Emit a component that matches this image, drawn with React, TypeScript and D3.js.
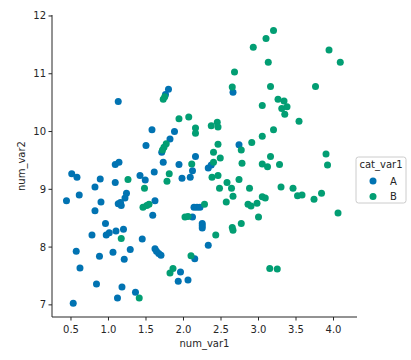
import * as React from "react";
import * as d3 from "d3";

// points, [num_var1, num_var2]
const groupA: number[][] = [
  [0.51, 9.27], [0.58, 9.21], [0.44, 8.8], [0.61, 8.9], [0.82, 9.04], [0.89, 9.18],
  [1.09, 9.12], [0.9, 8.78], [0.82, 8.63], [0.96, 8.41], [0.78, 8.21], [0.97, 8.21],
  [1.01, 8.25], [1.1, 8.28], [1.2, 8.31], [1.13, 8.75], [1.17, 8.72], [1.16, 8.77],
  [1.22, 8.85], [1.24, 8.93], [1.42, 9.24], [1.49, 9.16], [1.61, 9.3], [1.62, 8.8],
  [1.59, 8.55], [1.45, 8.14], [1.62, 7.97], [1.64, 7.93], [1.67, 7.89], [1.7, 7.86],
  [1.98, 9.19], [2.09, 9.21], [2.12, 9.32], [2.12, 8.52], [2.15, 7.8], [2.14, 8.69],
  [2.18, 8.69], [2.22, 8.69], [2.25, 8.41], [2.25, 8.37], [2.25, 8.33], [2.33, 8.03],
  [0.57, 7.93], [0.88, 7.84], [0.62, 7.64], [1.06, 7.91], [1.21, 7.79], [1.29, 7.96],
  [0.84, 7.36], [1.18, 7.31], [1.12, 7.12], [1.36, 7.22], [0.53, 7.03], [1.96, 7.57],
  [1.93, 7.41], [2.06, 7.43], [2.66, 10.68], [2.74, 9.77], [2.33, 9.37], [2.37, 9.42],
  [1.13, 10.52], [1.8, 10.73], [1.76, 10.64], [1.58, 10.03], [1.88, 10.0], [1.82, 9.87],
  [1.5, 9.76], [1.71, 9.64], [2.16, 9.57], [1.09, 9.43], [1.14, 9.47], [1.73, 9.47],
  [1.94, 9.43],
];

const groupB: number[][] = [
  [1.26, 9.17], [1.48, 9.02], [1.46, 8.69], [1.51, 8.72], [1.54, 8.74], [1.17, 8.15],
  [1.78, 9.14], [1.81, 9.27], [2.02, 8.52], [2.06, 8.53], [2.28, 8.74], [2.43, 8.21],
  [2.1, 7.85], [1.82, 7.55], [1.86, 7.63], [1.41, 7.12], [2.38, 9.21], [2.46, 9.24],
  [2.58, 9.12], [2.74, 9.17], [2.48, 9.02], [2.64, 9.02], [2.66, 8.88], [2.57, 8.78],
  [2.88, 9.02], [2.86, 8.74], [2.9, 8.71], [2.98, 8.76], [3.05, 8.87], [3.09, 8.85],
  [3.0, 8.52], [3.3, 9.04], [3.46, 9.02], [3.52, 8.89], [3.58, 8.9], [3.74, 8.83],
  [3.84, 8.93], [4.06, 8.59], [2.77, 8.41], [2.65, 8.34], [2.66, 8.29], [3.15, 7.63],
  [3.25, 7.62], [3.2, 11.75], [3.1, 11.61], [2.93, 11.46], [3.13, 11.2], [3.94, 11.41],
  [4.09, 11.2], [2.68, 11.03], [2.65, 10.77], [3.16, 10.78], [3.76, 10.78], [3.26, 10.56],
  [3.34, 10.53], [3.05, 10.45], [3.31, 10.4], [3.38, 10.43], [3.35, 10.3], [3.54, 10.18],
  [2.37, 10.1], [2.45, 10.16], [2.46, 10.08], [3.2, 10.03], [3.05, 9.92], [2.91, 9.81],
  [2.46, 9.78], [2.4, 9.64], [2.77, 9.68], [2.49, 9.54], [2.4, 9.47], [3.16, 9.57],
  [2.78, 9.45], [3.05, 9.44], [3.12, 9.39], [3.28, 9.43], [3.9, 9.61], [3.92, 9.42],
  [1.73, 10.56], [1.75, 10.6], [1.94, 10.22], [2.07, 10.25], [2.16, 10.06], [2.16, 9.97],
  [1.77, 9.79], [1.74, 9.73], [1.72, 9.68], [2.11, 9.44],
];

const categories = ["A", "B"];
const colors = ["#0173b2", "#029e73"];
const xTicks = [0.5, 1.0, 1.5, 2.0, 2.5, 3.0, 3.5, 4.0];
const yTicks = [7, 8, 9, 10, 11, 12];

const width = 411;
const height = 360;
const left = 52;
const right = 357;
const top = 15;
const bottom = 317;

const x = d3.scaleLinear().domain([0.247, 4.313]).range([left, right]);
const y = d3.scaleLinear().domain([6.79, 12.017]).range([bottom, top]);

const font = "DejaVu Sans, sans-serif";
const ink = "#262626";

export default function App() {
  const groups = [groupA, groupB];
  return (
    <svg
      width={width}
      height={height}
      style={{ position: "absolute", left: 0, top: 0, background: "#fff" }}
      fontFamily={font}
    >
      {groups.map((pts, g) =>
        pts.map((p, i) => (
          <circle key={g + "-" + i} cx={x(p[0])} cy={y(p[1])} r={3.5} fill={colors[g]} />
        ))
      )}

      {/* axes */}
      <line x1={left} x2={left} y1={top} y2={bottom} stroke={ink} strokeWidth={1} />
      <line x1={left} x2={right} y1={bottom} y2={bottom} stroke={ink} strokeWidth={1} />
      {xTicks.map(t => (
        <g key={"x" + t}>
          <line x1={x(t)} x2={x(t)} y1={bottom} y2={bottom + 3.5} stroke={ink} />
          <text x={x(t)} y={bottom + 16} textAnchor="middle" fontSize={10} fill={ink}>
            {t.toFixed(1)}
          </text>
        </g>
      ))}
      {yTicks.map(t => (
        <g key={"y" + t}>
          <line x1={left - 3.5} x2={left} y1={y(t)} y2={y(t)} stroke={ink} />
          <text x={left - 6} y={y(t) + 3.5} textAnchor="end" fontSize={10} fill={ink}>
            {t}
          </text>
        </g>
      ))}
      <text x={(left + right) / 2} y={347} textAnchor="middle" fontSize={10} fill={ink}>
        num_var1
      </text>
      <text
        transform={`translate(25,${(top + bottom) / 2}) rotate(-90)`}
        textAnchor="middle"
        fontSize={10}
        fill={ink}
      >
        num_var2
      </text>

      {/* legend */}
      <rect x={356} y={157} width={50} height={46} rx={2.5} fill="#fff" fillOpacity={0.8} stroke="#cccccc" />
      <text x={381} y={168} textAnchor="middle" fontSize={10} fill={ink}>
        cat_var1
      </text>
      {categories.map((c, i) => (
        <g key={c}>
          <circle cx={373} cy={181 + i * 15.5} r={3.5} fill={colors[i]} />
          <text x={390} y={184.5 + i * 15.5} fontSize={10} fill={ink}>
            {c}
          </text>
        </g>
      ))}
    </svg>
  );
}
